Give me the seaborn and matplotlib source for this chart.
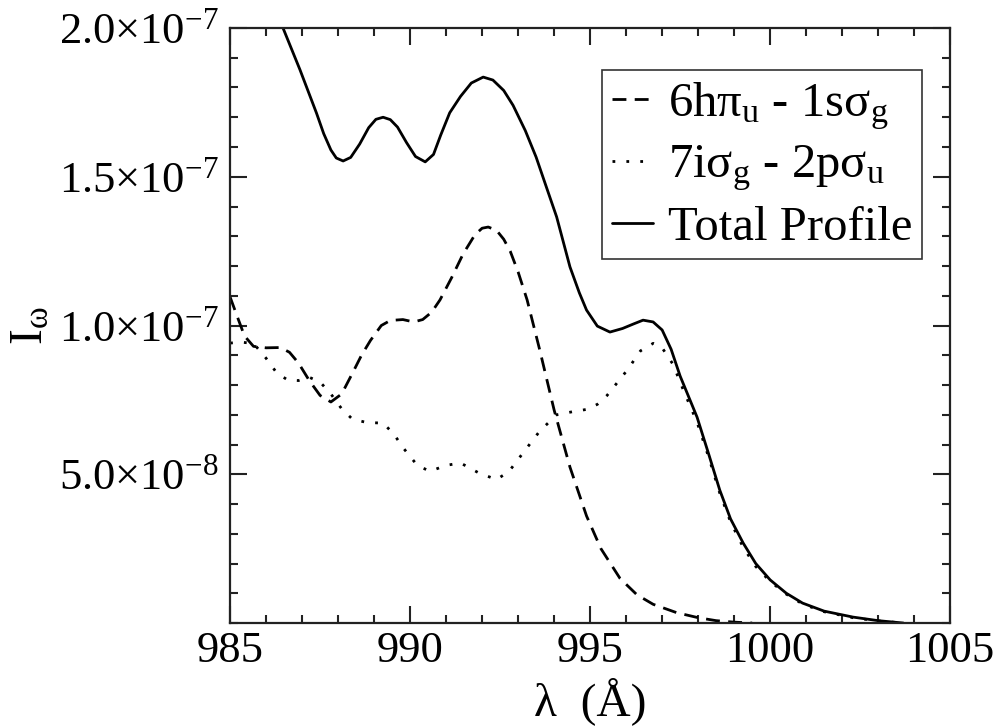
import numpy as np
import pandas as pd
import matplotlib
matplotlib.use('Agg')
import matplotlib.pyplot as plt
import seaborn as sns
from matplotlib.ticker import MultipleLocator, FixedLocator, FixedFormatter

# values (intensity in units of 1e-7)
wl_dash = [985.0, 985.2, 985.4, 985.65, 986.0, 986.4, 986.65, 986.9, 987.2, 987.5,
           987.8, 988.1, 988.4, 988.65, 988.9, 989.2, 989.45, 989.8, 990.1, 990.35,
           990.6, 990.83, 991.15, 991.47, 991.8, 992.0, 992.17, 992.4, 992.6, 992.78,
           993.0, 993.25, 993.6, 994.0, 994.44, 994.9, 995.3, 995.83, 996.3, 996.75,
           997.4, 998.0, 998.5, 999.0, 999.5]
i_dash = [1.096, 1.03, 0.965, 0.93, 0.925, 0.926, 0.91, 0.874, 0.815, 0.765,
          0.743, 0.77, 0.84, 0.90, 0.95, 1.0, 1.017, 1.02, 1.012, 1.02,
          1.045, 1.086, 1.16, 1.24, 1.305, 1.327, 1.331, 1.32, 1.29, 1.25,
          1.18, 1.086, 0.918, 0.716, 0.524, 0.36, 0.25, 0.15, 0.095, 0.063,
          0.035, 0.018, 0.008, 0.003, 0.0]

wl_dot = [985.0, 985.3, 985.65, 986.0, 986.3, 986.6, 986.9, 987.2, 987.5, 987.8,
          988.1, 988.4, 988.8, 989.25, 989.55, 989.8, 990.2, 990.55, 991.0, 991.4,
          991.9, 992.4, 992.75, 993.05, 993.6, 994.07, 994.5, 994.9, 995.2, 995.47,
          996.03, 996.4, 996.75, 997.0, 997.3, 997.6, 997.97, 998.3, 998.6, 998.9,
          999.25, 999.6, 1000.0, 1000.45, 1000.9, 1001.5, 1002.3, 1003.0, 1003.7]
i_dot = [0.941, 0.944, 0.94, 0.89, 0.84, 0.817, 0.815, 0.826, 0.81, 0.77,
         0.72, 0.685, 0.674, 0.672, 0.635, 0.59, 0.53, 0.51, 0.53, 0.538,
         0.505, 0.482, 0.51, 0.558, 0.645, 0.70, 0.71, 0.718, 0.735, 0.765,
         0.85, 0.915, 0.94, 0.925, 0.87, 0.78, 0.675, 0.555, 0.437, 0.34,
         0.255, 0.19, 0.14, 0.097, 0.064, 0.038, 0.018, 0.007, 0.0]

wl_tot = [985.0, 986.47, 986.94, 987.4, 987.6, 987.8, 987.95, 988.14, 988.35, 988.6,
          988.85, 989.05, 989.25, 989.45, 989.65, 989.9, 990.15, 990.42, 990.65, 990.85,
          991.1, 991.4, 991.7, 992.03, 992.3, 992.6, 992.86, 993.2, 993.5, 993.8,
          994.07, 994.44, 994.7, 994.9, 995.2, 995.55, 995.9, 996.2, 996.47, 996.75,
          997.0, 997.25, 997.5, 997.97, 998.3, 998.6, 998.9, 999.25, 999.6, 1000.0,
          1000.45, 1000.9, 1001.5, 1002.3, 1003.0, 1003.7]
i_tot = [2.38, 2.00, 1.86, 1.714, 1.645, 1.59, 1.563, 1.553, 1.565, 1.61,
         1.665, 1.693, 1.70, 1.692, 1.667, 1.615, 1.568, 1.55, 1.575, 1.64,
         1.715, 1.77, 1.815, 1.835, 1.825, 1.79, 1.74, 1.655, 1.566, 1.46,
         1.365, 1.197, 1.11, 1.052, 0.998, 0.978, 0.99, 1.005, 1.018, 1.012,
         0.985, 0.92, 0.83, 0.692, 0.565, 0.447, 0.35, 0.269, 0.20, 0.145,
         0.10, 0.067, 0.04, 0.02, 0.008, 0.0]

labels = ['6hπ$_\\mathrm{u}$ - 1sσ$_\\mathrm{g}$',
          '7iσ$_\\mathrm{g}$ - 2pσ$_\\mathrm{u}$',
          'Total Profile']
ytick_vals = [5e-8, 1e-7, 1.5e-7, 2e-7]
ytick_labels = ['5.0×10$^{-8}$', '1.0×10$^{-7}$', '1.5×10$^{-7}$', '2.0×10$^{-7}$']

sns.set_style('ticks')
plt.rcParams['font.family'] = ['Liberation Serif', 'DejaVu Serif']
plt.rcParams['mathtext.fontset'] = 'custom'
plt.rcParams['mathtext.rm'] = 'Liberation Serif'
plt.rcParams['mathtext.it'] = 'Liberation Serif:italic'
plt.rcParams['text.color'] = 'black'
plt.rcParams['axes.labelcolor'] = 'black'

fig, ax = plt.subplots(figsize=(9.96, 7.27), dpi=100)
fig.subplots_adjust(left=0.231, right=0.954, top=0.9615, bottom=0.143)

sns.lineplot(x=wl_dash, y=np.array(i_dash) * 1e-7, ax=ax, color='black', lw=2,
             linestyle=(0, (5, 3)), label=labels[0])
sns.lineplot(x=wl_dot, y=np.array(i_dot) * 1e-7, ax=ax, color='black', lw=2,
             linestyle=(0, (1, 4)), label=labels[1])
sns.lineplot(x=wl_tot, y=np.array(i_tot) * 1e-7, ax=ax, color='black', lw=2,
             linestyle='-', label=labels[2])

ax.set_xlim(985, 1005)
ax.set_ylim(0, 2e-7)
ax.xaxis.set_major_locator(MultipleLocator(5))
ax.xaxis.set_minor_locator(MultipleLocator(1))
ax.yaxis.set_major_locator(FixedLocator(ytick_vals))
ax.yaxis.set_major_formatter(FixedFormatter(ytick_labels))
ax.yaxis.set_minor_locator(MultipleLocator(1e-8))

ax.tick_params(which='both', direction='in', top=True, right=True, width=1.5,
               colors='#222222', labelcolor='black')
ax.tick_params(which='major', length=12, labelsize=32)
ax.tick_params(axis='x', which='major', pad=6)
ax.tick_params(axis='y', which='major', pad=8)
ax.tick_params(which='minor', length=6)
for s in ax.spines.values():
    s.set_linewidth(1.6)
    s.set_color('#222222')

ax.set_xlabel('λ  (Å)', fontsize=34, labelpad=4)
ax.set_ylabel('I$_\\mathrm{ω}$', fontsize=34)
ax.yaxis.set_label_coords(-0.246, 0.5)

leg = ax.legend(loc='upper right', bbox_to_anchor=(0.961, 0.929), borderaxespad=0,
                fontsize=35, handlelength=0.85, handletextpad=0.3, labelspacing=0.25,
                borderpad=0.2, fancybox=False, framealpha=1, edgecolor='#333333')
leg.get_frame().set_linewidth(1.2)

plt.savefig('out.png', dpi=100)
